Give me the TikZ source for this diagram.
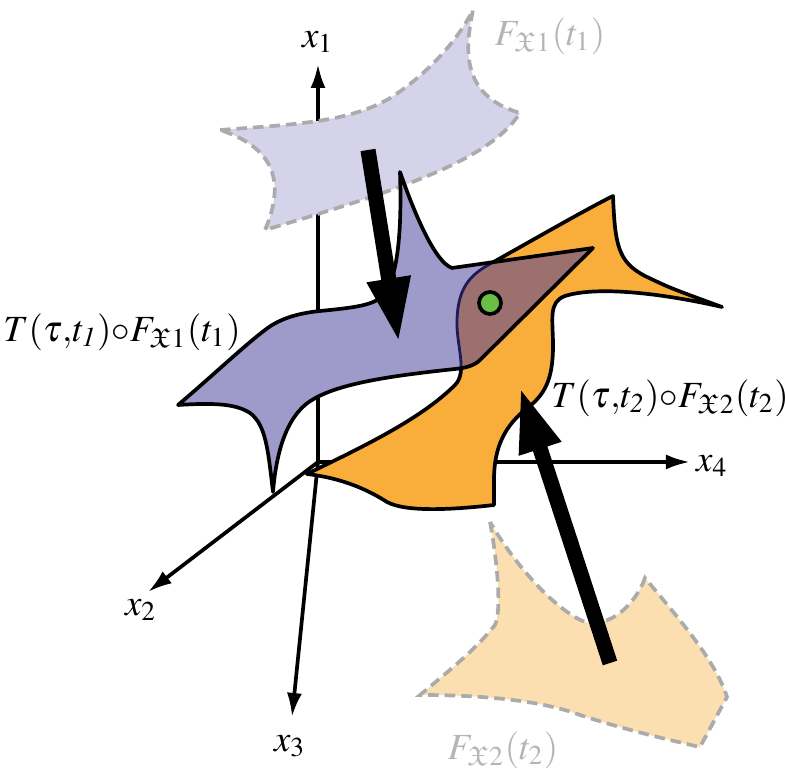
\documentclass[tikz,border=0pt]{standalone}
\usepackage{mathptmx}
\usepackage{amssymb}
\usepackage{fontspec}
\setmainfont{Liberation Serif}
\usetikzlibrary{arrows.meta}
\definecolor{paleviolet}{HTML}{D5D3EA}
\definecolor{sheetviolet}{HTML}{9E9ACA}
\definecolor{sheetorange}{HTML}{F9AE3B}
\definecolor{paleorange}{HTML}{FCDFB0}
\definecolor{overlapbrown}{HTML}{9B706E}
\definecolor{dotgreen}{HTML}{6ABD45}
\definecolor{ghostgray}{HTML}{ABABAB}
\definecolor{labelgray}{HTML}{B5B5B5}
\definecolor{edgenavy}{HTML}{1E1A5C}

\newcommand{\ghostone}{(220,130) .. controls (300,124) and (350,122) .. (392,97)
  .. controls (425,75) and (455,45) .. (473,10)
  .. controls (466,45) and (458,95) .. (520,113)
  .. controls (490,160) and (400,190) .. (265,230)
  .. controls (282,190) and (282,150) .. (220,130) -- cycle}
\newcommand{\ghosttwo}{(490,522) .. controls (497,560) and (502,610) .. (495,625)
  .. controls (475,650) and (450,670) .. (420,695)
  .. controls (480,695) and (540,700) .. (580,715)
  .. controls (620,728) and (660,738) .. (700,747) -- (727,697)
  .. controls (715,660) and (680,620) .. (645,578)
  .. controls (635,605) and (610,628) .. (585,622)
  .. controls (555,610) and (515,565) .. (490,522) -- cycle}
\newcommand{\violetsheet}{(178,405) .. controls (210,378) and (245,345) .. (265,330)
  .. controls (280,318) and (300,313) .. (320,311)
  .. controls (350,308) and (370,306) .. (380,298)
  .. controls (398,285) and (402,230) .. (400,172)
  .. controls (415,215) and (435,262) .. (452,268) -- (593,248) -- (480,360)
  .. controls (474,366) and (465,368) .. (455,369)
  .. controls (390,376) and (330,384) .. (305,405)
  .. controls (285,422) and (276,455) .. (273,492)
  .. controls (268,450) and (266,425) .. (250,413)
  .. controls (235,403) and (210,403) .. (178,405) -- cycle}
\newcommand{\orangesheet}{(307,474) .. controls (360,448) and (420,420) .. (455,385)
  .. controls (468,372) and (456,345) .. (457,320)
  .. controls (458,290) and (468,276) .. (490,264)
  .. controls (540,236) and (585,210) .. (613,196)
  .. controls (615,245) and (618,262) .. (645,276)
  .. controls (670,288) .. (722,307)
  .. controls (670,295) and (600,285) .. (565,296)
  .. controls (548,302) and (553,320) .. (553,345)
  .. controls (553,380) and (545,395) .. (525,410)
  .. controls (500,430) and (494,455) .. (494,480) -- (494,505)
  .. controls (450,510) and (405,512) .. (387,502)
  .. controls (365,488) and (340,478) .. (307,474) -- cycle}

\begin{document}
\begin{tikzpicture}[
  x=0.01cm,y=-0.01cm,
  font=\fontsize{10.5}{12}\selectfont,
  axis/.style={-{Latex[length=2.4mm,width=1.5mm]},line width=1.05pt},
  ghost/.style={draw=ghostgray,line width=1.05pt,dash pattern=on 3pt off 1.7pt},
  sheet/.style={draw=black,line width=1.05pt,line join=round},
  push/.style={-{Triangle[length=6.5mm,width=4mm]},line width=4.3pt},
  faded/.style={text=labelgray},
]
\useasboundingbox (0,0) rectangle (785,774);

\coordinate (o) at (318,462);
\coordinate (e1) at (318,64);
\coordinate (e2) at (148,592);
\coordinate (e3) at (292,717);
\coordinate (e4) at (690,462);

\draw[axis] (o) -- (e1);
\draw[axis] (o) -- (e2);
\draw[axis] (o) -- (e3);
\draw[axis] (o) -- (e4);

\fill[paleviolet] \ghostone;
\draw[ghost] \ghostone;
\fill[paleorange] \ghosttwo;
\draw[ghost] \ghosttwo;

\fill[sheetorange] \orangesheet;
\draw[sheet] \orangesheet;
\fill[sheetviolet] \violetsheet;
\begin{scope}
  \clip \orangesheet;
  \fill[overlapbrown] \violetsheet;
\end{scope}
\begin{scope}
  \clip \violetsheet;
  \draw[edgenavy,line width=0.8pt] \orangesheet;
\end{scope}
\draw[sheet] \violetsheet;

\node[circle,draw,line width=1.05pt,fill=dotgreen,minimum size=0.22cm,inner sep=0pt] (pt) at (490,303) {};

\coordinate (a1) at (368,150);
\coordinate (b1) at (399,343);
\coordinate (a2) at (610,663);
\coordinate (b2) at (520,387);
\draw[push] (a1) -- (b1);
\draw[push] (a2) -- (b2);

\node (lx1) at (318,42) {$x_1$};
\node (lx2) at (141,610) {$x_2$};
\node (lx3) at (290,746) {$x_3$};
\node (lx4) at (712,466) {$x_4$};
\node[faded] (lg1) at (550,36) {$F_{\mathfrak{X}1}(t_1)$};
\node[faded] (lg2) at (503,750) {$F_{\mathfrak{X}2}(t_2)$};
\node (ls1) at (122,332) {$T(\tau{,}t_{\mathit{1}}){\circ}F_{\mathfrak{X}1}(t_1)$};
\node (ls2) at (670,398) {$T(\tau{,}t_{\mathit{2}}){\circ}F_{\mathfrak{X}2}(t_2)$};

\end{tikzpicture}
\end{document}
